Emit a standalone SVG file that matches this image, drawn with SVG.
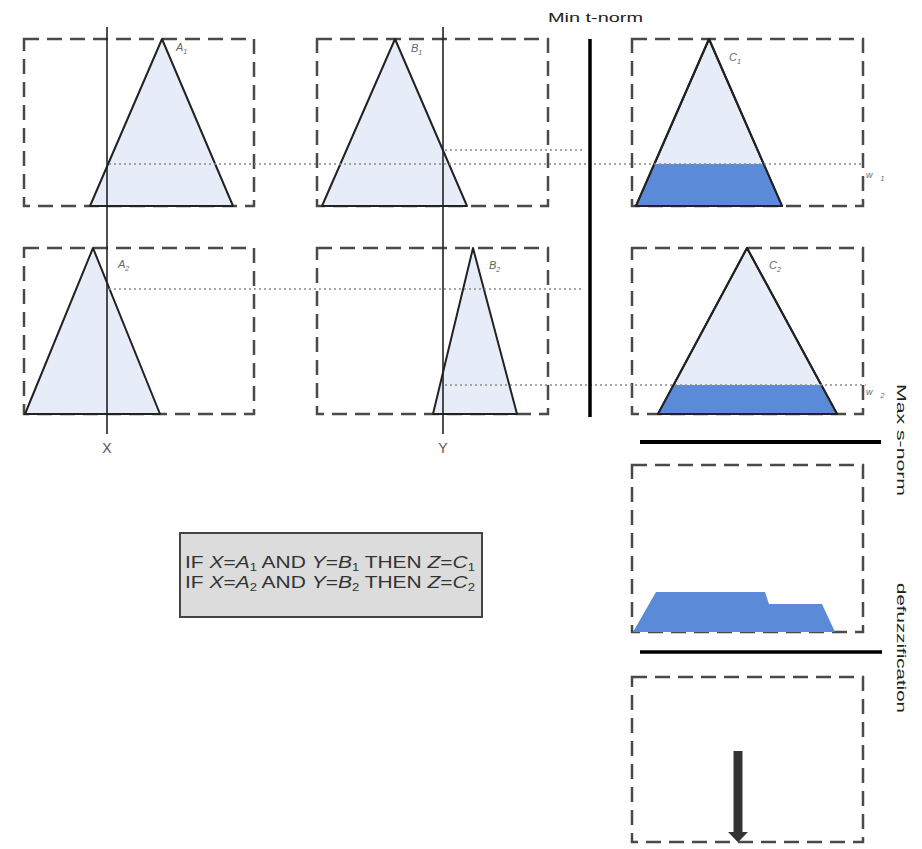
<svg xmlns="http://www.w3.org/2000/svg" width="922" height="849" viewBox="0 0 922 849">
<style>
.box{fill:none;stroke:#4a4a4a;stroke-width:2.5;stroke-dasharray:15 8}
.tri{fill:#e6ecf8;stroke:#222;stroke-width:2;stroke-linejoin:round}
.clip{fill:#5b8bd8;stroke:none}
.axis{stroke:#222;stroke-width:1.6}
.dot{stroke:#8a8a8a;stroke-width:1.6;stroke-dasharray:2 3;fill:none}
.bar{stroke:#000;stroke-width:3.5}
.lbl{font-family:"Liberation Sans",Arial,sans-serif;font-size:11px;font-style:italic;fill:#666}
.sub{font-size:7px}
.ax{font-family:"Liberation Sans",Arial,sans-serif;font-size:14px;fill:#555;text-anchor:middle}
.side{font-family:"Liberation Sans",Arial,sans-serif;font-size:13px;fill:#222}
.rule{font-family:"Liberation Sans",Arial,sans-serif;font-size:16px;fill:#333}
</style>
<defs>
<marker id="ah" viewBox="0 0 10 10" refX="0" refY="5" markerWidth="1.15" markerHeight="2.2" orient="auto" markerUnits="strokeWidth" preserveAspectRatio="none">
<path d="M0,0 L10,5 L0,10 Z" fill="#333"/>
</marker>
</defs>
<rect width="922" height="849" fill="#fff"/>

<g id="panel-A1">
<rect class="box" x="24" y="39" width="230" height="167"/>
<polygon class="tri" points="90,206 162,39 233,206"/>
<text class="lbl" x="176" y="51">A<tspan class="sub" dy="3">1</tspan></text>
</g>
<g id="panel-B1">
<rect class="box" x="317" y="39" width="231" height="167"/>
<polygon class="tri" points="322,206 395,39 467,206"/>
<text class="lbl" x="411" y="52">B<tspan class="sub" dy="3">1</tspan></text>
</g>
<g id="panel-C1">
<rect class="box" x="632" y="39" width="231" height="167"/>
<polygon class="tri" points="636,206 709,39 782,206"/>
<polygon class="clip" points="637,206 655,164 763,164 781,206"/>
<polygon fill="none" stroke="#222" stroke-width="2" stroke-linejoin="round" points="636,206 709,39 782,206 636,206"/>
<text class="lbl" x="729" y="61">C<tspan class="sub" dy="3">1</tspan></text>
<text class="lbl" x="866" y="178" style="font-size:9px">w<tspan class="sub" dx="8" dy="3">1</tspan></text>
</g>
<g id="panel-A2">
<rect class="box" x="24" y="248" width="230" height="166"/>
<polygon class="tri" points="25,414 93,248 160,414"/>
<text class="lbl" x="118" y="268">A<tspan class="sub" dy="3">2</tspan></text>
</g>
<g id="panel-B2">
<rect class="box" x="317" y="248" width="231" height="166"/>
<polygon class="tri" points="433,414 473,248 517,414"/>
<text class="lbl" x="489" y="269" style="fill:#4d6b5a">B<tspan class="sub" dy="3">2</tspan></text>
</g>
<g id="panel-C2">
<rect class="box" x="632" y="248" width="231" height="166"/>
<polygon class="tri" points="658,414 747,248 837,414"/>
<polygon class="clip" points="659,414 673,385 822,385 836,414"/>
<polygon fill="none" stroke="#222" stroke-width="2" stroke-linejoin="round" points="658,414 747,248 837,414 658,414"/>
<text class="lbl" x="769" y="269">C<tspan class="sub" dy="3">2</tspan></text>
<text class="lbl" x="866" y="395" style="font-size:9px">w<tspan class="sub" dx="8" dy="3">2</tspan></text>
</g>
<g id="axes">
<line class="axis" x1="107" y1="27" x2="107" y2="434"/>
<text class="ax" x="107" y="453">X</text>
<line class="axis" x1="443" y1="27" x2="443" y2="434"/>
<text class="ax" x="443" y="453">Y</text>
</g>
<g id="connectors">
<line class="dot" x1="109" y1="164" x2="863" y2="164"/>
<line class="dot" x1="445" y1="150" x2="583" y2="150"/>
<line class="dot" x1="109" y1="289" x2="583" y2="289"/>
<line class="dot" x1="445" y1="385" x2="866" y2="385"/>
</g>
<g id="min-t-norm">
<line class="bar" x1="590" y1="39" x2="590" y2="417"/>
<text class="side" x="548" y="22" textLength="95" lengthAdjust="spacingAndGlyphs">Min t-norm</text>
</g>
<g id="max-s-norm">
<line class="bar" x1="640" y1="442" x2="881" y2="442" style="stroke-width:4"/>
<text class="side" x="897" y="440" text-anchor="middle" transform="rotate(90 897 440)" textLength="112" lengthAdjust="spacingAndGlyphs">Max s-norm</text>
</g>
<g id="aggregation">
<rect class="box" x="632" y="465" width="231" height="167"/>
<polygon class="clip" points="633,632 656,592 765,592 769,604 822,604 835,632"/>
</g>
<g id="defuzzification">
<line class="bar" x1="640" y1="652" x2="882" y2="652"/>
<text class="side" x="897" y="648" text-anchor="middle" transform="rotate(90 897 648)" textLength="130" lengthAdjust="spacingAndGlyphs">defuzzification</text>
</g>
<g id="result">
<rect class="box" x="632" y="677" width="231" height="165"/>
<line x1="738" y1="751" x2="738" y2="832" stroke="#333" stroke-width="9" marker-end="url(#ah)"/>
</g>
<g id="rules">
<rect x="180" y="533" width="302" height="84" fill="#dcdcdc" stroke="#444" stroke-width="2"/>
<text class="rule" x="185" y="568" textLength="290" lengthAdjust="spacingAndGlyphs">IF <tspan font-style="italic">X</tspan>=<tspan font-style="italic">A</tspan><tspan font-size="10" dy="3">1</tspan><tspan dy="-3"> AND </tspan><tspan font-style="italic">Y</tspan>=<tspan font-style="italic">B</tspan><tspan font-size="10" dy="3">1</tspan><tspan dy="-3"> THEN </tspan><tspan font-style="italic">Z</tspan>=<tspan font-style="italic">C</tspan><tspan font-size="10" dy="3">1</tspan></text>
<text class="rule" x="185" y="588" textLength="290" lengthAdjust="spacingAndGlyphs">IF <tspan font-style="italic">X</tspan>=<tspan font-style="italic">A</tspan><tspan font-size="10" dy="3">2</tspan><tspan dy="-3"> AND </tspan><tspan font-style="italic">Y</tspan>=<tspan font-style="italic">B</tspan><tspan font-size="10" dy="3">2</tspan><tspan dy="-3"> THEN </tspan><tspan font-style="italic">Z</tspan>=<tspan font-style="italic">C</tspan><tspan font-size="10" dy="3">2</tspan></text>
</g>
</svg>
